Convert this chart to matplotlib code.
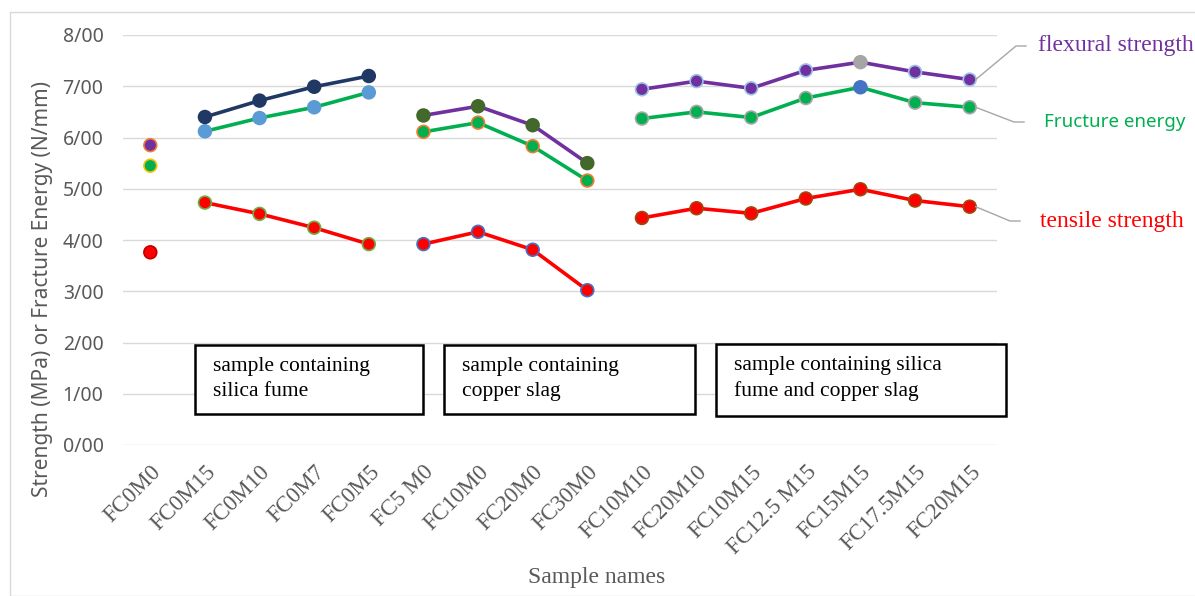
import matplotlib
matplotlib.use("Agg")
import matplotlib.pyplot as plt
import numpy as np
from matplotlib.patches import Rectangle

# ---------------- data ----------------
samples = ["FC0M0", "FC0M15", "FC0M10", "FC0M7", "FC0M5", "FC5 M0", "FC10M0", "FC20M0",
           "FC30M0", "FC10M10", "FC20M10", "FC10M15", "FC12.5 M15", "FC15M15", "FC17.5M15", "FC20M15"]
flexural = [5.85, 6.40, 6.72, 6.99, 7.20, 6.43, 6.61, 6.24, 5.50,
            6.94, 7.10, 6.96, 7.31, 7.47, 7.28, 7.13]
fracture = [5.45, 6.12, 6.38, 6.59, 6.88, 6.11, 6.29, 5.83, 5.16,
            6.37, 6.50, 6.39, 6.77, 6.98, 6.68, 6.59]
tensile = [3.76, 4.73, 4.51, 4.24, 3.92, 3.92, 4.16, 3.81, 3.02,
           4.43, 4.62, 4.52, 4.81, 4.99, 4.77, 4.65]
yticks = [0, 1, 2, 3, 4, 5, 6, 7, 8]
ytick_labels = ["0/00", "1/00", "2/00", "3/00", "4/00", "5/00", "6/00", "7/00", "8/00"]
groups = [(0, 1), (1, 5), (5, 9), (9, 16)]
box_texts = ["sample containing\nsilica fume", "sample containing\ncopper slag",
             "sample containing silica\nfume and copper slag"]
series_labels = ["flexural strength", "Fructure energy", "tensile strength"]

# ---------------- styles ----------------
PURPLE = "#7030A0"; NAVY = "#203864"; DKGREEN = "#43682B"; GREEN = "#00B050"
LBLUE = "#5B9BD5"; BLUE = "#4472C4"; ORANGE = "#ED7D31"; GOLD = "#FFC000"
GRAY = "#A5A5A5"; RED = "#FF0000"

flex_line = [None, NAVY, PURPLE, PURPLE]
fe_line = [None, GREEN, GREEN, GREEN]
ten_line = [None, RED, RED, RED]

flex_face = [PURPLE] + [NAVY] * 4 + [DKGREEN] * 4 + [PURPLE] * 4 + [GRAY] + [PURPLE] * 2
flex_edge = [ORANGE] + [NAVY] * 4 + [DKGREEN] * 4 + ["#9DC3E6"] * 4 + [GRAY] + ["#9DC3E6"] * 2
fe_face = [GREEN] + [LBLUE] * 4 + [GREEN] * 4 + [GREEN] * 4 + [BLUE] + [GREEN] * 2
fe_edge = [GOLD] + [LBLUE] * 4 + [ORANGE] * 4 + [GRAY] * 4 + [BLUE] + [GRAY] * 2
ten_face = [RED] * 16
ten_edge = ["#C00000"] + ["#70AD47"] * 4 + [BLUE] * 4 + ["#9E480E"] * 7

W, H = 1195, 596
fig = plt.figure(figsize=(W / 100, H / 100), dpi=100)
ax = fig.add_axes([123 / W, 1 - 445 / H, (997 - 123) / W, (445 - 35) / H])

x = np.arange(len(samples))

for vals, lcols, face, edge, z in [(flexural, flex_line, flex_face, flex_edge, 4),
                                   (fracture, fe_line, fe_face, fe_edge, 3),
                                   (tensile, ten_line, ten_face, ten_edge, 3)]:
    v = np.array(vals)
    for (a, b), lc in zip(groups, lcols):
        if lc is not None and b - a > 1:
            ax.plot(x[a:b], v[a:b], color=lc, lw=2.6, zorder=z, solid_capstyle="round")
    ax.scatter(x, v, s=85, c=face, edgecolors=edge, linewidths=1.2, zorder=z + 1)

ax.set_xlim(-0.5, len(samples) - 0.5)
ax.set_ylim(0, 8)
ax.set_yticks(yticks)
ax.set_yticklabels(ytick_labels, fontsize=14, color="#595959", family="Noto Sans")
ax.set_xticks(x)
ax.set_xticklabels(samples, rotation=45, ha="right", rotation_mode="anchor",
                   fontsize=16.5, color="#595959", family="Liberation Serif")
ax.tick_params(axis="y", length=0, pad=14)
ax.tick_params(axis="x", length=0, pad=12)
ax.grid(axis="y", color="#D9D9D9", lw=1)
ax.set_axisbelow(True)
for s in ax.spines.values():
    s.set_visible(False)

fig.text(43 / W, 1 - 289 / H, "Strength (MPa) or Fracture Energy (N/mm)", rotation=90,
         ha="center", va="center", fontsize=15, color="#595959", family="Noto Sans")
fig.text(597 / W, 1 - 577 / H, "Sample names", ha="center", va="center",
         fontsize=17, color="#595959", family="Liberation Serif")

# group boxes (pixel coords)
boxes = [(195, 345, 423, 414), (444, 345, 695, 414), (716, 344, 1006, 416)]
for (x0, y0, x1, y1), t in zip(boxes, box_texts):
    fig.patches.append(Rectangle((x0 / W, 1 - y1 / H), (x1 - x0) / W, (y1 - y0) / H,
                                 transform=fig.transFigure, fill=True, facecolor="white",
                                 edgecolor="black", lw=1.8, zorder=10))
    fig.text((x0 + 18) / W, 1 - (y0 + 12) / H, t, ha="left", va="top", fontsize=15.5,
             family="Liberation Serif", color="black", linespacing=1.4, zorder=11)

# series labels with leader lines
last = len(samples) - 1
lab_specs = [(flexural[last], 1016, 46, 1038, PURPLE, "Liberation Serif", 17),
             (fracture[last], 1014, 122, 1044, GREEN, "Noto Sans", 13.5),
             (tensile[last], 1010, 221, 1040, RED, "Liberation Serif", 17)]
for (yv, kx, ky, tx, col, fam, fs), lab in zip(lab_specs, series_labels):
    px, py = ax.transData.transform((last, yv))
    pts = [(px + 6, py), (kx, H - ky), (kx + 10, H - ky)]
    xs = [p[0] / W for p in pts]
    ys = [p[1] / H for p in pts]
    fig.add_artist(plt.Line2D(xs, ys, transform=fig.transFigure, color="#A6A6A6", lw=1))
    fig.text(tx / W, 1 - ky / H, lab, ha="left", va="center", color=col,
             family=fam, fontsize=fs)

# outer chart border
fig.patches.append(Rectangle((10 / W, 0), (W - 10) / W + 0.01, 1 - 12 / H,
                             transform=fig.transFigure, fill=False,
                             edgecolor="#D9D9D9", lw=1))

fig.savefig("out.png", dpi=100)
